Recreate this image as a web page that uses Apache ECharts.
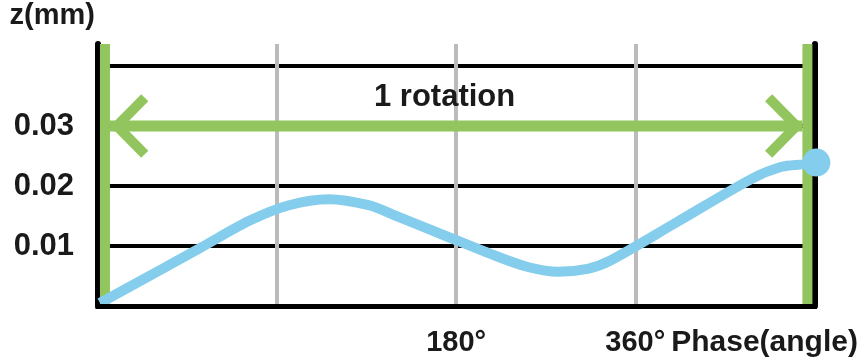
<!DOCTYPE html>
<html><head><meta charset="utf-8">
<script src="https://cdn.jsdelivr.net/npm/echarts@6/dist/echarts.min.js"></script>
<style>html,body{margin:0;padding:0;background:#fff}#c{width:860px;height:360px}</style>
</head><body><div id="c"></div>
<script>
// Blue curve: position along the phase axis and displacement z (mm)
const phaseX = [2, 102, 152, 192, 232, 272, 297, 352, 402, 432, 462, 492, 514, 582, 657, 687, 708, 722];
const zMM    = [0.0005, 0.0096, 0.0142, 0.0168, 0.0178, 0.0168, 0.0152, 0.0115, 0.0082, 0.0065, 0.0057, 0.0062, 0.0075, 0.0140, 0.0212, 0.0232, 0.0236, 0.0239];

// Tick labels
const xTickValues = [360, 540];
const xTickLabels = ['180°', '360°'];
const yTickLabels = ['0.01', '0.02', '0.03'];

// "1 rotation" annotation (axis units)
const rotationStartX = 7, rotationEndX = 713;
const arrowY = 0.03;
const shaftFrom = 12, shaftTo = 708;
const headLeftTip = 19, headLeftBack = 47;
const headRightTip = 702, headRightBack = 674;
const headHalf = 0.0047;

const xMax = 720, yMax = 0.04367;

const FONT = 'Liberation Sans';
const TXT = '#1a1a1a';
const BLUE = '#85CDEC';
const GREEN = '#92C55E';

const chart = echarts.init(document.getElementById('c'), null, {renderer: 'canvas'});
const last = phaseX.length - 1;

chart.setOption({
  animation: false,
  backgroundColor: '#fff',
  title: {
    text: '1 rotation', left: 374, top: 82, padding: 0,
    textStyle: {fontFamily: FONT, fontSize: 31, fontWeight: 'bold', color: TXT}
  },
  grid: {left: 98, right: 42, top: 44, bottom: 54, containLabel: false},
  xAxis: [{
    type: 'value', min: 0, max: xMax, interval: 180,
    name: 'Phase(angle)', nameLocation: 'end', nameGap: 40,
    nameTextStyle: {fontFamily: FONT, fontSize: 30, fontWeight: 'bold', color: TXT, align: 'right', verticalAlign: 'top', padding: [22, 0, 0, 0]},
    axisLine: {show: false},
    axisTick: {show: false},
    axisLabel: {
      margin: 22, fontFamily: FONT, fontSize: 29, fontWeight: 'bold', color: TXT,
      formatter: v => { const i = xTickValues.indexOf(v); return i >= 0 ? xTickLabels[i] : ''; }
    },
    splitLine: {show: true, showMinLine: false, showMaxLine: false, lineStyle: {color: '#bbbbbb', width: 4}}
  }, {
    type: 'value', min: 0, max: xMax, position: 'bottom', z: 4,
    axisLine: {show: true, onZero: false, lineStyle: {color: '#000', width: 5, cap: 'square'}},
    axisTick: {show: false}, axisLabel: {show: false}, splitLine: {show: false}
  }],
  yAxis: [{
    type: 'value', min: 0, max: yMax, interval: 0.01, position: 'left',
    name: 'z(mm)', nameLocation: 'end', nameGap: 14,
    nameTextStyle: {fontFamily: FONT, fontSize: 29, fontWeight: 'bold', color: TXT, align: 'right', padding: [0, 3, 0, 0]},
    axisLine: {show: true, lineStyle: {color: '#000', width: 6}},
    axisTick: {show: false},
    axisLabel: {
      margin: 24, fontFamily: FONT, fontSize: 31, fontWeight: 'bold', color: TXT,
      formatter: v => { const s = v.toFixed(2); return yTickLabels.includes(s) ? s : ''; }
    },
    splitLine: {show: true, showMinLine: false, showMaxLine: false, lineStyle: {color: '#000', width: 4}}
  }, {
    type: 'value', min: 0, max: yMax, position: 'right',
    axisLine: {show: true, onZero: false, lineStyle: {color: '#000', width: 6}},
    axisTick: {show: false}, axisLabel: {show: false}, splitLine: {show: false}
  }],
  series: [{
    type: 'lines', coordinateSystem: 'cartesian2d', polyline: true, z: 1, silent: true,
    lineStyle: {color: GREEN, width: 10, opacity: 1, join: 'miter', cap: 'butt'},
    data: [
      {coords: [[rotationStartX, 0], [rotationStartX, yMax]]},
      {coords: [[rotationEndX, 0], [rotationEndX, yMax]]},
      {coords: [[shaftFrom, arrowY], [shaftTo, arrowY]], lineStyle: {width: 11}},
      {coords: [[headLeftBack, arrowY + headHalf], [headLeftTip, arrowY], [headLeftBack, arrowY - headHalf]]},
      {coords: [[headRightBack, arrowY + headHalf], [headRightTip, arrowY], [headRightBack, arrowY - headHalf]]}
    ]
  }, {
    type: 'line', z: 2, clip: false, smooth: 0.3, symbol: 'none',
    lineStyle: {color: BLUE, width: 10, cap: 'butt'},
    data: phaseX.map((x, i) => [x, zMM[i]])
  }, {
    type: 'scatter', z: 3, clip: false, symbol: 'circle', symbolSize: 28,
    itemStyle: {color: BLUE, opacity: 1},
    data: [[phaseX[last], zMM[last]]]
  }]
});
</script>
</body></html>
